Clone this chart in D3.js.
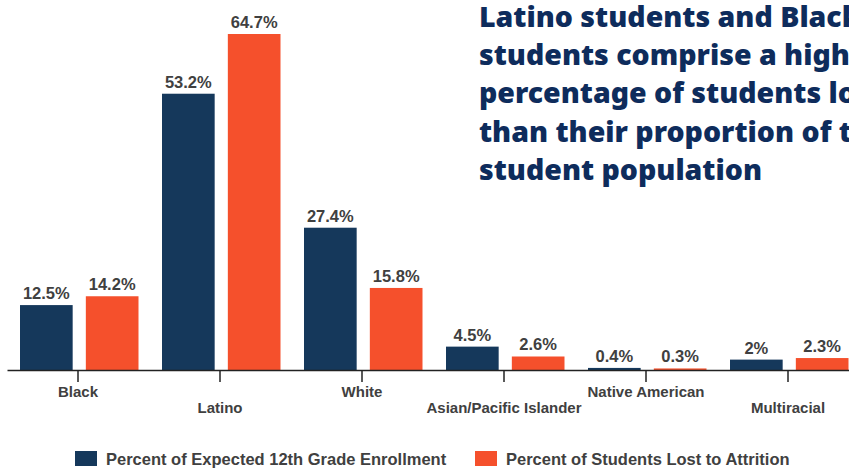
<!DOCTYPE html>
<html><head><meta charset="utf-8">
<script src="https://cdn.jsdelivr.net/npm/d3@7"></script>
<style>html,body{margin:0;padding:0;background:#fff;}svg{display:block;}</style>
</head><body>
<svg id="chart" width="849" height="468"></svg>
<script>
const categories = ["Black","Latino","White","Asian/Pacific Islander","Native American","Multiracial"];
const seriesNames = ["Percent of Expected 12th Grade Enrollment","Percent of Students Lost to Attrition"];
const enrollment = [12.5, 53.2, 27.4, 4.5, 0.4, 2];
const attrition = [14.2, 64.7, 15.8, 2.6, 0.3, 2.3];
const colors = ["#15385B","#F5502C"];
const titleLines = ["Latino students and Black","students comprise a higher","percentage of students lost","than their proportion of the","student population"];

const svg = d3.select("#chart");
const x = d3.scaleBand().domain(categories).range([7, 859]).padding(0);
const xs = d3.scaleBand().domain([0,1]).range([13, 131.5]).paddingInner(0.2).paddingOuter(0);
const y = d3.scaleLinear().domain([0, 64.7]).range([370, 34]);

const data = categories.map((c,i)=>({cat:c, vals:[enrollment[i], attrition[i]]}));

const g = svg.selectAll("g.grp").data(data).join("g").attr("class","grp")
  .attr("transform", d=>`translate(${x(d.cat)},0)`);
g.selectAll("rect").data(d=>d.vals.map((v,k)=>({v,k}))).join("rect")
  .attr("x", d=>xs(d.k)).attr("width", xs.bandwidth())
  .attr("y", d=>y(d.v)).attr("height", d=>y(0)-y(d.v))
  .attr("fill", d=>colors[d.k]);
g.selectAll("text").data(d=>d.vals.map((v,k)=>({v,k}))).join("text")
  .attr("x", d=>xs(d.k)+xs.bandwidth()/2).attr("y", d=>y(d.v)-6)
  .attr("text-anchor","middle")
  .attr("font-family","Liberation Sans, Arial, sans-serif")
  .attr("font-weight","bold").attr("font-size","16.5px").attr("fill","#404040")
  .text(d=>d.v+"%");

const axis = svg.append("g").attr("transform","translate(0,370)")
  .call(d3.axisBottom(x).tickSize(12).tickSizeOuter(0));
axis.select(".domain").attr("stroke","#222").attr("stroke-width",1.5);
axis.selectAll(".tick line").attr("stroke","#222").attr("stroke-width",1.5);
axis.selectAll(".tick text")
  .attr("font-family","Liberation Sans, Arial, sans-serif")
  .attr("font-weight","bold").attr("font-size","15px").attr("fill","#404040")
  .attr("dy",null)
  .attr("y",(d,i)=> i%2===0 ? 27 : 43);

const title = svg.append("text")
  .attr("font-family","Noto Sans, sans-serif").attr("font-weight","900")
  .attr("font-size","28.5px").attr("fill","#0E2C5C");
titleLines.forEach((t,i)=>{
  title.append("tspan").attr("x",479).attr("y",27+i*38.2).text(t);
});

const legX = [75, 475];
const leg = svg.selectAll("g.leg").data(seriesNames).join("g").attr("class","leg")
  .attr("transform",(d,i)=>`translate(${legX[i]},451)`);
leg.append("rect").attr("width",22).attr("height",15).attr("fill",(d,i)=>colors[i]);
leg.append("text").attr("x",31).attr("y",14)
  .attr("font-family","Liberation Sans, Arial, sans-serif")
  .attr("font-weight","bold").attr("font-size","16.5px").attr("fill","#404040")
  .text(d=>d);
</script>
</body></html>
